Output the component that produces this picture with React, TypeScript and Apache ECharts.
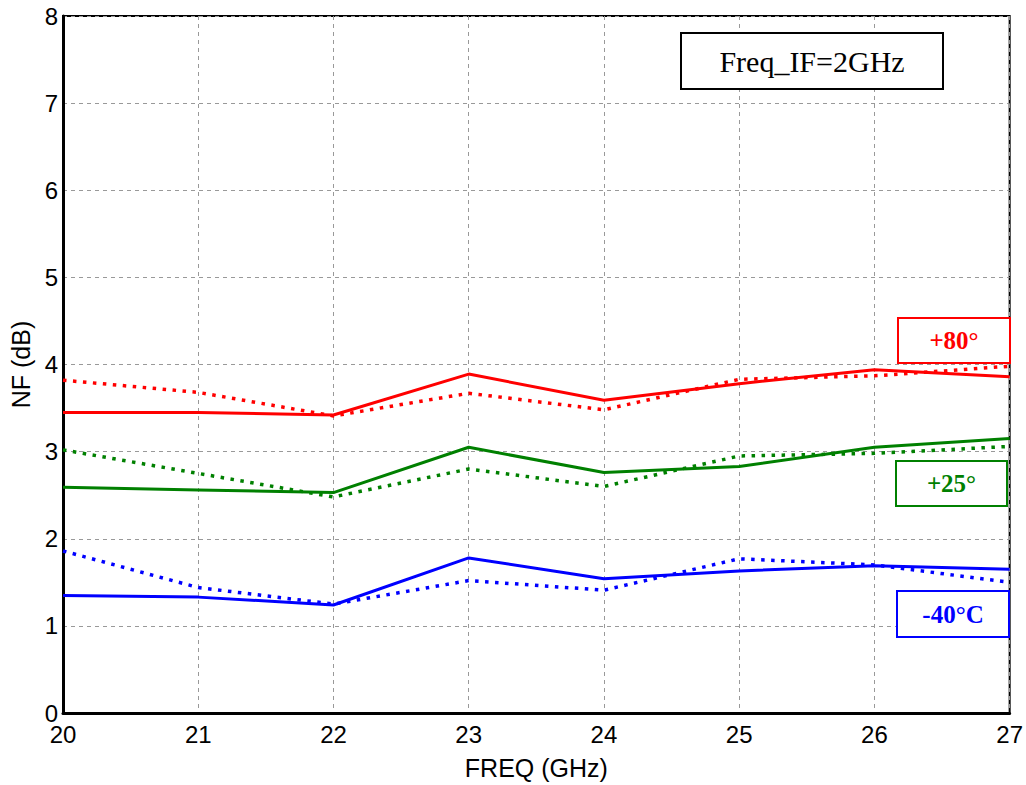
import React, { useEffect, useRef } from "react";
import * as echarts from "echarts";

const FREQ = [20, 21, 22, 23, 24, 25, 26, 27];
const NF_80_SOLID = [3.45, 3.45, 3.42, 3.89, 3.59, 3.78, 3.94, 3.86];
const NF_80_DOT = [3.82, 3.68, 3.41, 3.67, 3.48, 3.83, 3.87, 3.98];
const NF_25_SOLID = [2.59, 2.56, 2.53, 3.05, 2.76, 2.83, 3.05, 3.15];
const NF_25_DOT = [3.02, 2.75, 2.48, 2.8, 2.6, 2.95, 2.98, 3.06];
const NF_M40_SOLID = [1.35, 1.33, 1.24, 1.78, 1.54, 1.63, 1.69, 1.65];
const NF_M40_DOT = [1.86, 1.44, 1.25, 1.52, 1.41, 1.77, 1.7, 1.5];
const Y_TICKS = [0, 8];
const X_RANGE = [20, 27];

const RED = "#ff0000";
const GREEN = "#008000";
const BLUE = "#0000ff";

const pairs = (ys: number[]) => FREQ.map((f, i) => [f, ys[i]]);

export default function App() {
  const ref = useRef<HTMLDivElement>(null);
  useEffect(() => {
    if (!ref.current) return;
    const chart = echarts.init(ref.current, null, { renderer: "svg" });
    const sans = "'Liberation Sans', Arial, sans-serif";
    const serif = "'Liberation Serif', 'Times New Roman', serif";
    const line = (name: string, ys: number[], color: string, dotted: boolean) => ({
      name,
      type: "line",
      data: pairs(ys),
      showSymbol: false,
      symbol: "none",
      lineStyle: { color, width: dotted ? 3.5 : 3, type: dotted ? [3.5, 6.5] : "solid" },
      z: dotted ? 3 : 4,
    });
    const box = (x: number, y: number, w: number, h: number, text: string, color: string, size: number, bold: boolean) => ({
      type: "group",
      children: [
        { type: "rect", shape: { x, y, width: w, height: h }, style: { fill: "#fff", stroke: color, lineWidth: 2 }, z: 10 },
        {
          type: "text",
          x: x + w / 2,
          y: y + h / 2,
          style: {
            text,
            fill: color,
            font: `${bold ? "bold " : ""}${size}px ${serif}`,
            textAlign: "center",
            textVerticalAlign: "middle",
          },
          z: 11,
        },
      ],
    });
    chart.setOption({
      animation: false,
      backgroundColor: "#fff",
      grid: { left: 63, right: 16, top: 16, bottom: 67, show: true, borderColor: "#000", borderWidth: 2, backgroundColor: "transparent" },
      xAxis: {
        type: "value",
        min: X_RANGE[0],
        max: X_RANGE[1],
        interval: 1,
        name: "FREQ (GHz)",
        nameLocation: "middle",
        nameGap: 42,
        nameTextStyle: { color: "#000", fontSize: 25, fontFamily: sans },
        axisLine: { show: true, lineStyle: { color: "#000", width: 3 } },
        axisTick: { show: false },
        axisLabel: { color: "#000", fontSize: 24, fontFamily: sans, margin: 9 },
        splitLine: { show: true, lineStyle: { color: "#999", width: 1, type: [4, 4] } },
      },
      yAxis: {
        type: "value",
        min: Y_TICKS[0],
        max: Y_TICKS[1],
        interval: 1,
        name: "NF (dB)",
        nameLocation: "middle",
        nameGap: 30,
        nameTextStyle: { color: "#000", fontSize: 25, fontFamily: sans },
        axisLine: { show: true, lineStyle: { color: "#000", width: 3 } },
        axisTick: { show: false },
        axisLabel: { color: "#000", fontSize: 24, fontFamily: sans, margin: 5 },
        splitLine: { show: true, lineStyle: { color: "#999", width: 1, type: [4, 4] } },
      },
      series: [
        line("+80 dotted", NF_80_DOT, RED, true),
        line("+80", NF_80_SOLID, RED, false),
        line("+25 dotted", NF_25_DOT, GREEN, true),
        line("+25", NF_25_SOLID, GREEN, false),
        line("-40 dotted", NF_M40_DOT, BLUE, true),
        line("-40", NF_M40_SOLID, BLUE, false),
      ],
      graphic: [
        box(681, 33, 262, 56, "Freq_IF=2GHz", "#000", 30, false),
        box(898, 318, 112, 45, "+80°", RED, 25, true),
        box(896, 461, 111, 45, "+25°", GREEN, 25, true),
        box(897, 591, 112, 46, "-40°C", BLUE, 25, true),
      ],
    });
    return () => chart.dispose();
  }, []);
  return <div ref={ref} style={{ position: "fixed", left: 0, top: 0, width: 1026, height: 785 }} />;
}
